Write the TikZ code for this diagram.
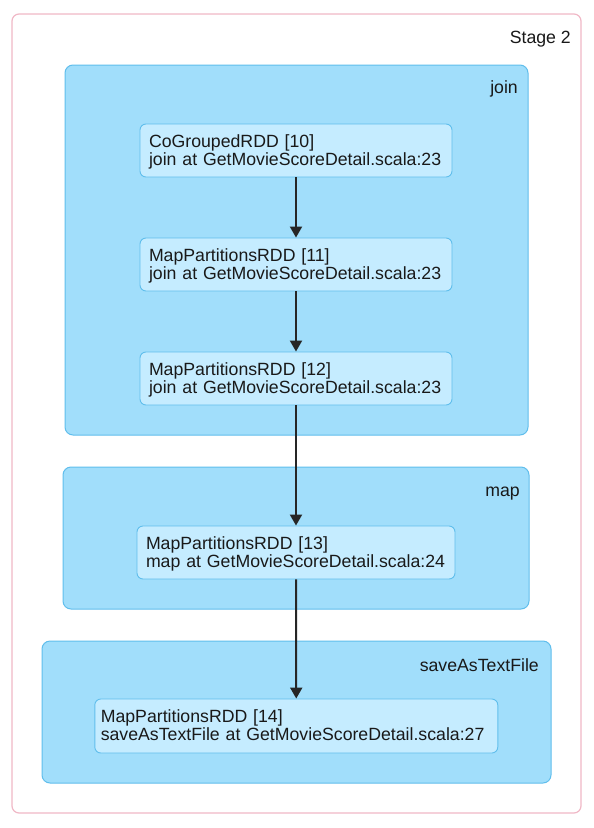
\documentclass[tikz,border=0pt]{standalone}
\usepackage{fontspec}
\setmainfont{Liberation Sans}
\usetikzlibrary{arrows.meta}
\definecolor{pinkline}{RGB}{240,184,198}
\definecolor{clfill}{RGB}{161,222,251}
\definecolor{clline}{RGB}{96,190,236}
\definecolor{ndfill}{RGB}{197,236,255}
\definecolor{txt}{RGB}{25,25,25}
\tikzset{
  stagebox/.style={draw=pinkline, line width=1.2pt, rounded corners=7pt, fill=white, inner sep=0pt},
  cluster/.style={draw=clline, fill=clfill, line width=1pt, rounded corners=8pt, inner sep=0pt},
  rdd/.style={draw=clline, fill=ndfill, line width=0.9pt, rounded corners=6pt, align=left,
    inner xsep=5pt, inner ysep=0pt, text height=13pt, text depth=20pt,
    font=\fontsize{17.7}{18}\selectfont, text=txt},
  lbl/.style={anchor=base east, inner sep=0pt, font=\fontsize{17.7}{18}\selectfont, text=txt},
  arr/.style={draw=black!85, line width=2pt, -{Triangle[length=11pt,width=12pt]}}
}
\begin{document}
\begin{tikzpicture}[x=1pt,y=-1pt]
\useasboundingbox (0,0) rectangle (594,828);
\node[stagebox, minimum width=569, minimum height=799] (stage) at (296.5,413.5) {};
\node[lbl] (stagelbl) at (571,43) {Stage 2};

\node[cluster, minimum width=463, minimum height=370] (join) at (296.5,250) {};
\node[lbl] (joinlbl) at (518,93) {join};
\node[cluster, minimum width=466, minimum height=142] (map) at (296,538) {};
\node[lbl] (maplbl) at (520,496) {map};
\node[cluster, minimum width=509, minimum height=142] (save) at (296.5,712) {};
\node[lbl] (savelbl) at (539,671) {saveAsTextFile};

\node[rdd, minimum width=312, minimum height=53, text width=294] (n10) at (296,150.5) {CoGroupedRDD [10]\\join at GetMovieScoreDetail.scala:23};
\node[rdd, minimum width=312, minimum height=53, text width=294] (n11) at (296,264.5) {MapPartitionsRDD [11]\\join at GetMovieScoreDetail.scala:23};
\node[rdd, minimum width=312, minimum height=53, text width=294] (n12) at (296,378.5) {MapPartitionsRDD [12]\\join at GetMovieScoreDetail.scala:23};
\node[rdd, minimum width=318, minimum height=53, text width=300] (n13) at (296,552.5) {MapPartitionsRDD [13]\\map at GetMovieScoreDetail.scala:24};
\node[rdd, minimum width=403, minimum height=54, text width=391] (n14) at (296.3,726) {MapPartitionsRDD [14]\\saveAsTextFile at GetMovieScoreDetail.scala:27};

\draw[arr] (n10) -- (n11);
\draw[arr] (n11) -- (n12);
\draw[arr] (n12) -- (n13);
\draw[arr] (n13) -- (n14);
\end{tikzpicture}
\end{document}
